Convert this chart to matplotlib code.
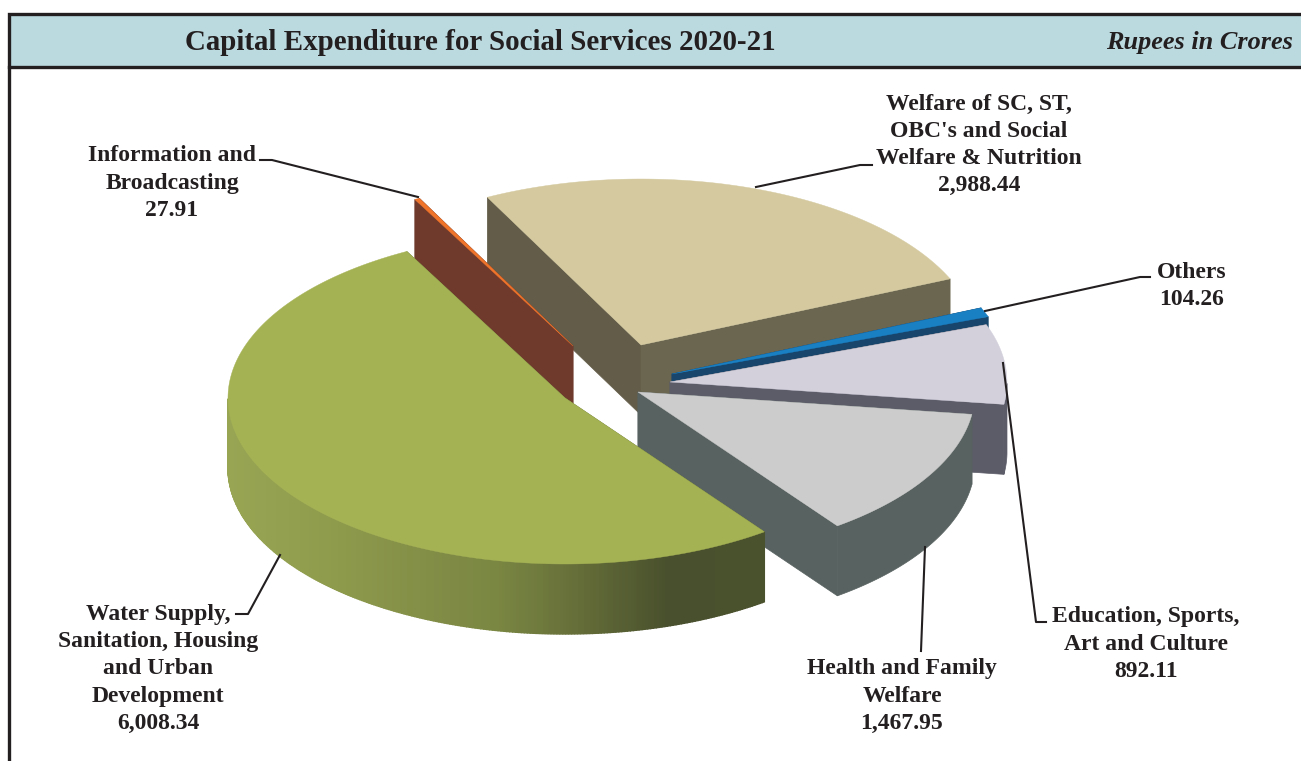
import numpy as np
import matplotlib
matplotlib.use("Agg")
import matplotlib.pyplot as plt
from matplotlib.colors import LinearSegmentedColormap
from matplotlib.patches import Rectangle

plt.rcParams['font.family'] = ['Liberation Serif', 'DejaVu Sans']

# slices, clockwise from the 118 degree mark
categories = ["Information and\nBroadcasting",
              "Welfare of SC, ST,\nOBC's and Social\nWelfare & Nutrition",
              "Others",
              "Education, Sports,\nArt and Culture",
              "Health and Family\nWelfare",
              "Water Supply,\nSanitation, Housing\nand Urban\nDevelopment"]
values = [27.91, 2988.44, 104.26, 892.11, 1467.95, 6008.34]

top_colors = ["#F0742A", "#D4C99F", "#1A80C4", "#D3D0DC", "#CCCCCC", "#A5B254"]
wall_colors = ["#6F3A2C", "#635C48", "#17456B", "#5C5C69", "#586260", "#6B7A3A"]
wall_colors_end = ["#6F3A2C", "#6A6650", "#17456B", "#5C5C69", "#586260", "#6B7A3A"]

# exploded slice centres in picture pixels
centers = [(573, 346), (641, 345), (672, 374), (670, 382), (638, 392), (565, 398)]
label_pos = [(172, 183), (979, 145), (1192, 286), (1146, 644), (902, 696), (158, 669)]
leaders = [[(260, 160), (272, 160), (418, 197)],
           [(756, 187), (860, 165), (872, 165)],
           [(985, 311), (1140, 277), (1150, 277)],
           [(1003, 363), (1036, 622), (1046, 622)],
           [(925, 547), (921, 651)],
           [(280, 555), (248, 614), (236, 614)]]

start_angle = 118
rx, ry = 337, 166
depth = 70
text_color = "#231F20"

water_wall = LinearSegmentedColormap.from_list(
    "water_wall", [(0, "#98A553"), (0.2, "#8E9B4C"), (0.35, "#848F47"), (0.5, "#7A8742"),
                   (0.65, "#666F39"), (0.82, "#49502D"), (1, "#4A512D")])


def arc(cx, cy, a0, a1, n):
    t = np.radians(np.linspace(a0, a1, n))
    return cx + rx * np.cos(t), cy - ry * np.sin(t)


def draw_slice(ax, center, a0, a1, top, wall, wall_end, gradient=None):
    cx, cy = center
    n = max(int(abs(a1 - a0) * 2), 2)
    xs, ys = arc(cx, cy, a0, a1, n)

    # radial walls
    for x, y, c in [(xs[0], ys[0], wall), (xs[-1], ys[-1], wall_end)]:
        ax.fill([cx, x, x, cx], [cy, y, y + depth, cy + depth], color=c, lw=0.5)

    # outer wall, only the part facing the viewer
    front = np.sin(np.radians(np.linspace(a0, a1, n))) <= 0
    fx, fy = xs[front], ys[front]
    if len(fx) > 1:
        if gradient is None:
            ax.fill(np.r_[fx, fx[::-1]], np.r_[fy, fy[::-1] + depth], color=wall_end, lw=0.5)
        else:
            for i in range(len(fx) - 1):
                c = gradient((fx[i] - fx.min()) / (fx.max() - fx.min()))
                ax.fill([fx[i], fx[i + 1], fx[i + 1], fx[i]],
                        [fy[i], fy[i + 1], fy[i + 1] + depth, fy[i] + depth],
                        color=c, lw=1.0)

    ax.fill(np.r_[cx, xs], np.r_[cy, ys], color=top, lw=0.3)


fig = plt.figure(figsize=(13.01, 7.61), dpi=100)
ax = fig.add_axes([0, 0, 1, 1])
ax.set_xlim(0, 1301)
ax.set_ylim(761, 0)
ax.axis("off")

# header band and frame
ax.add_patch(Rectangle((10, 15), 1291, 51, color="#BBDAE0", lw=0))
ax.plot([1301, 9, 9], [13.5, 13.5, 761], color=text_color, lw=2.4, solid_joinstyle="miter")
ax.plot([9, 1301], [67, 67], color=text_color, lw=2.4)
ax.text(480, 43, "Capital Expenditure for Social Services 2020-21", fontsize=20.9,
        fontweight="bold", color=text_color, ha="center", va="center")
ax.text(1293, 43, "Rupees in Crores", fontsize=18.9, fontweight="bold", style="italic",
        color=text_color, ha="right", va="center")

# angles come from the values
sweeps = np.array(values) / sum(values) * 360
ends = start_angle - np.cumsum(sweeps)
starts = np.r_[start_angle, ends[:-1]]

# back to front
for i in [1, 0, 2, 3, 4, 5]:
    grad = water_wall if i == 5 else None
    draw_slice(ax, centers[i], starts[i], ends[i], top_colors[i],
               wall_colors[i], wall_colors_end[i], grad)

for pts in leaders:
    ax.plot([p[0] for p in pts], [p[1] for p in pts], color=text_color, lw=1.5)

for name, v, pos in zip(categories, values, label_pos):
    ax.text(pos[0], pos[1], f"{name}\n{v:,.2f}", fontsize=17, fontweight="bold",
            color=text_color, ha="center", va="center", multialignment="center",
            linespacing=1.39)

fig.savefig("out.png", dpi=100)
